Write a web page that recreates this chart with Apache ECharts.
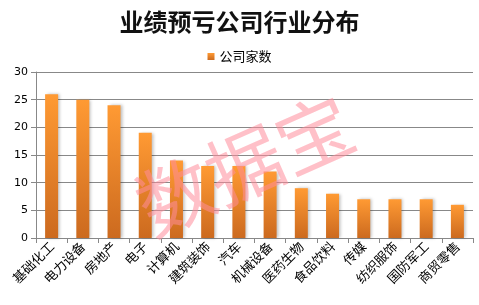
<!DOCTYPE html>
<html>
<head>
<meta charset="utf-8">
<script src="https://cdn.jsdelivr.net/npm/echarts@6/dist/echarts.min.js"></script>
<style>
  html, body { margin: 0; padding: 0; background: #fff; }
  #main { width: 479px; height: 305px; }
</style>
</head>
<body>
<div id="main"></div>
<script>
// 行业分类
const categories = ['基础化工', '电力设备', '房地产', '电子', '计算机', '建筑装饰', '汽车',
  '机械设备', '医药生物', '食品饮料', '传媒', '纺织服饰', '国防军工', '商贸零售'];
// 公司家数
const counts = [26, 25, 24, 19, 14, 13, 13, 12, 9, 8, 7, 7, 7, 6];
const yTicks = [0, 5, 10, 15, 20, 25, 30];

const chart = echarts.init(document.getElementById('main'));

const option = {
  backgroundColor: '#fff',
  animation: false,
  title: {
    text: '业绩预亏公司行业分布',
    left: 'center',
    top: 5,
    textStyle: {
      fontFamily: 'Noto Sans CJK SC',
      fontWeight: 'bold',
      fontSize: 24,
      color: '#111'
    }
  },
  legend: {
    top: 45,
    left: 'center',
    itemWidth: 7,
    itemHeight: 7,
    itemGap: 5,
    icon: 'rect',
    textStyle: { fontFamily: 'Noto Sans CJK SC', fontSize: 13, color: '#000' },
    data: ['公司家数']
  },
  grid: { left: 36, right: 6, top: 72, bottom: 67 },
  xAxis: {
    type: 'category',
    data: categories,
    axisLine: { lineStyle: { color: '#888' } },
    axisTick: { show: true, alignWithLabel: false, lineStyle: { color: '#888' } },
    axisLabel: {
      rotate: 45,
      interval: 0,
      margin: 6,
      fontFamily: 'Noto Sans CJK SC',
      fontSize: 13,
      color: '#000'
    }
  },
  yAxis: {
    type: 'value',
    min: yTicks[0],
    max: yTicks[yTicks.length - 1],
    interval: 5,
    axisLine: { show: true, lineStyle: { color: '#888' } },
    axisTick: { show: true, lineStyle: { color: '#888' } },
    splitLine: { lineStyle: { color: '#888' } },
    axisLabel: { fontFamily: 'DejaVu Sans', fontSize: 11, color: '#000', margin: 8 }
  },
  series: [{
    name: '公司家数',
    type: 'bar',
    data: counts,
    barWidth: 13,
    itemStyle: {
      color: new echarts.graphic.LinearGradient(0, 0, 0, 1, [
        { offset: 0, color: '#ff9a33' },
        { offset: 1, color: '#cc6a1f' }
      ]),
      shadowColor: 'rgba(0,0,0,0.25)',
      shadowBlur: 3,
      shadowOffsetX: 2
    }
  }],
  graphic: [{
    type: 'text',
    x: 156,
    y: 246,
    rotation: Math.PI * 24 / 180,
    z: 100,
    style: {
      text: '数据宝',
      fontFamily: 'Noto Sans CJK SC',
      fontSize: 76,
      textVerticalAlign: 'bottom',
      fill: 'rgba(255, 140, 155, 0.55)'
    }
  }]
};

chart.setOption(option);
</script>
</body>
</html>
